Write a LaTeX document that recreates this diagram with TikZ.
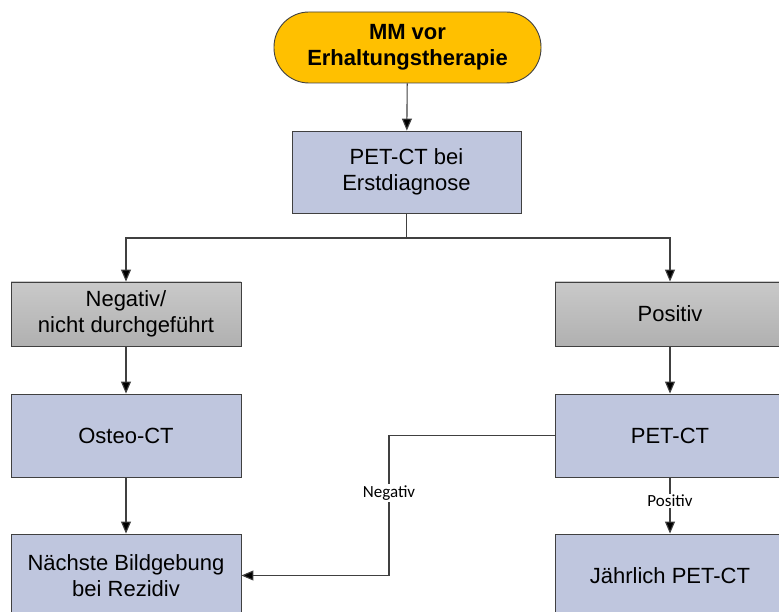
\documentclass[tikz,border=0pt]{standalone}
\usepackage{fontspec}
\setmainfont{Liberation Sans}
\newfontfamily\lblfont{Carlito}
\usetikzlibrary{arrows.meta}
\definecolor{startc}{HTML}{FFC000}
\definecolor{bluebox}{HTML}{BFC6DE}
\definecolor{linec}{HTML}{404040}
\tikzset{
  base/.style={draw=linec, line width=0.9pt, align=center, inner sep=2pt,
    font=\fontsize{22}{26}\selectfont, text=black},
  startbox/.style={base, fill=startc, minimum width=267pt, minimum height=71pt,
    rounded corners=35pt, font=\fontsize{22}{26}\selectfont\bfseries},
  bluebox/.style={base, fill=bluebox, minimum width=230pt, minimum height=83pt},
  graybox/.style={base, top color=gray!42, bottom color=gray!62, minimum width=230pt, minimum height=64pt},
  arr/.style={draw=linec, line width=1.1pt, -{Triangle[length=12pt,width=10pt,fill=black]}},
  lbl/.style={fill=white, inner sep=1.5pt, font=\lblfont\fontsize{17}{19}\selectfont, text=black}
}
\begin{document}
\begin{tikzpicture}[x=1pt,y=-1pt]
\useasboundingbox (0,0) rectangle (779,612);
\clip (0,0) rectangle (779,612);
\node[startbox] (start) at (407.5,47.5) {MM vor\\Erhaltungstherapie};
\node[bluebox, minimum width=229pt, minimum height=82pt] (pet1) at (406.5,172) {PET-CT bei\\Erstdiagnose};
\node[graybox] (neg) at (126,314) {Negativ/\\nicht durchgeführt};
\node[graybox] (pos) at (670,314) {Positiv};
\node[bluebox] (osteo) at (126,435.5) {Osteo-CT};
\node[bluebox] (pet2) at (670,435.5) {PET-CT};
\node[bluebox] (next) at (126,575.5) {Nächste Bildgebung\\bei Rezidiv};
\node[bluebox] (jahr) at (670,575.5) {Jährlich PET-CT};
\coordinate (split) at (406.5,238);
\draw[arr] (start) -- (pet1);
\draw[draw=linec, line width=1.1pt] (pet1.south) -- (split);
\draw[arr] (split) -| (neg.north);
\draw[arr] (split) -| (pos.north);
\draw[arr] (neg) -- (osteo);
\draw[arr] (osteo) -- (next);
\draw[arr] (pos) -- (pet2);
\draw[arr] (pet2) -- node[lbl, pos=0.42] {Positiv} (jahr);
\coordinate (bend) at (389,435.5);
\draw[arr] (pet2.west) -- (bend) |- node[lbl, pos=0.205] {Negativ} (next.east);
\end{tikzpicture}
\end{document}
